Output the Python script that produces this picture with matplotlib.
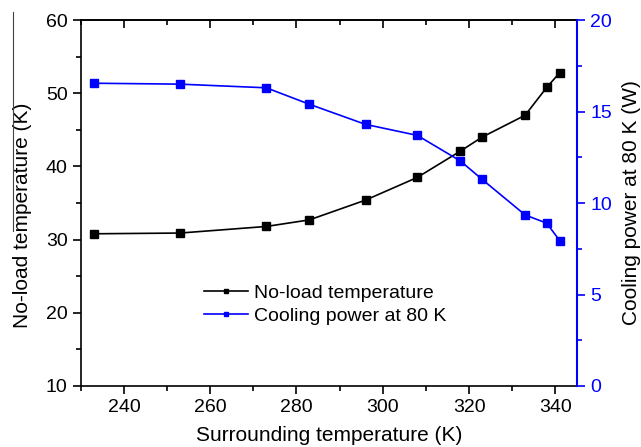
import matplotlib
matplotlib.use("Agg")
import matplotlib.pyplot as plt
from matplotlib.ticker import MultipleLocator
from matplotlib.lines import Line2D

plt.rcParams['font.family'] = ['Liberation Sans', 'DejaVu Sans']

surrounding_temp = [233, 253, 273, 283, 296, 308, 318, 323, 333, 338, 341]
noload_temp = [30.8, 30.9, 31.8, 32.7, 35.4, 38.5, 42.1, 44.0, 47.0, 50.8, 52.8]
cooling_power = [16.55, 16.5, 16.3, 15.4, 14.3, 13.7, 12.3, 11.3, 9.35, 8.9, 7.95]

fig = plt.figure(figsize=(6.41, 4.47), dpi=100)
ax = fig.add_axes([0.126, 0.1365, 0.774, 0.8185])
ax2 = ax.twinx()

l1, = ax.plot(surrounding_temp, noload_temp, color='black', lw=1.2, marker='s',
              markersize=6, label='No-load temperature')
l2, = ax2.plot(surrounding_temp, cooling_power, color='blue', lw=1.2, marker='s',
               markersize=6, label='Cooling power at 80 K')

ax.set_xlim(230, 345)
ax.set_ylim(10, 60)
ax2.set_ylim(0, 20)

ax.xaxis.set_major_locator(MultipleLocator(20))
ax.xaxis.set_minor_locator(MultipleLocator(10))
ax.yaxis.set_major_locator(MultipleLocator(10))
ax.yaxis.set_minor_locator(MultipleLocator(5))
ax2.yaxis.set_major_locator(MultipleLocator(5))
ax2.yaxis.set_minor_locator(MultipleLocator(2.5))

tfs = 14
lfs = 15
ax.tick_params(axis='x', which='both', direction='out', top=False, labelsize=tfs)
ax.tick_params(axis='x', which='major', length=6, width=1.2)
ax.tick_params(axis='x', which='minor', length=3.5, width=1.2)
ax.tick_params(axis='y', which='major', direction='out', length=6, width=1.2, labelsize=tfs)
ax.tick_params(axis='y', which='minor', direction='out', length=3.5, width=1.2)
ax2.tick_params(axis='y', which='major', direction='out', length=6, width=1.2,
                colors='blue', labelsize=tfs)
ax2.tick_params(axis='y', which='minor', direction='out', length=3.5, width=1.2, colors='blue')

# top inward ticks
secx = ax.secondary_xaxis('top')
secx.xaxis.set_major_locator(MultipleLocator(20))
secx.xaxis.set_minor_locator(MultipleLocator(10))
secx.tick_params(which='major', direction='in', length=6, width=1.2, labeltop=False)
secx.tick_params(which='minor', direction='in', length=3.5, width=1.2)
secx.set_xticklabels([])
secx.spines['top'].set_linewidth(1.2)

for s in ['left', 'bottom', 'top']:
    ax.spines[s].set_linewidth(1.2)
ax2.spines['right'].set_color('blue')
ax2.spines['right'].set_linewidth(1.5)
ax2.spines['left'].set_visible(False)
ax2.spines['top'].set_visible(False)
ax2.spines['bottom'].set_visible(False)
ax.spines['right'].set_visible(False)

ax.set_xlabel('Surrounding temperature (K)', fontsize=lfs, labelpad=7)
ax.set_ylabel('No-load temperature (K)', fontsize=lfs)
ax.yaxis.set_label_coords(-0.099, 0.467)
ax2.set_ylabel('Cooling power at 80 K (W)', fontsize=lfs, labelpad=7)

leg = ax.legend(handles=[l1, l2], loc='upper left', bbox_to_anchor=(0.232, 0.30),
                frameon=False, fontsize=lfs - 1, handlelength=2.3, markerscale=0.6,
                handletextpad=0.3, labelspacing=0.3, borderaxespad=0)

# thin artifact line near the left label
fig.add_artist(Line2D([13/641, 13/641], [1-12/447, 1-231/447], color='#444444', lw=0.8))

fig.savefig('out.png', dpi=100)
